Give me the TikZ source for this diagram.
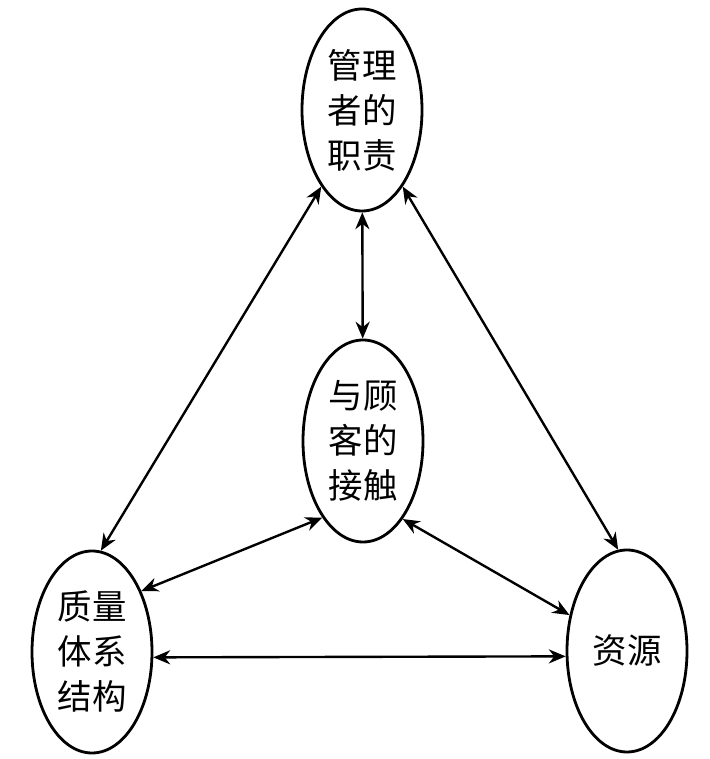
\documentclass[tikz,border=0pt]{standalone}
\usepackage{fontspec}
\setmainfont{Noto Sans CJK SC}
\usetikzlibrary{shapes.geometric,arrows.meta}
\begin{document}
\begin{tikzpicture}[x=1cm,y=1cm,line width=1.7pt,
  oval/.style={draw,ellipse,line width=2pt,minimum width=3cm,minimum height=5.05cm,
    inner sep=0pt,align=center,font=\fontsize{24.5}{32}\selectfont},
  link/.style={{Stealth[length=12pt,width=10pt]}-{Stealth[length=12pt,width=10pt]}}]
  \useasboundingbox (0,0) rectangle (17.725,18.975);

  % The four parts, one ellipse each.
  \node[oval] (duty) at (9.05,16.225) {管理\\者的\\职责};
  \node[oval] (contact) at (9.075,7.95) {与顾\\客的\\接触};
  \node[oval] (structure) at (2.3,2.675) {质量\\体系\\结构};
  \node[oval] (resource) at (15.675,2.7) {资源};

  % Every part is linked both ways with every other part.
  \draw[link] (duty) -- (contact);
  \draw[link] (duty.242) -- (structure.85);
  \draw[link] (duty.298) -- (resource.95);
  \draw[link] (contact.242) -- (structure.51);
  \draw[link] (contact.297) -- (resource.148);
  \draw[link] (structure.-5) -- (resource.185);
\end{tikzpicture}
\end{document}
